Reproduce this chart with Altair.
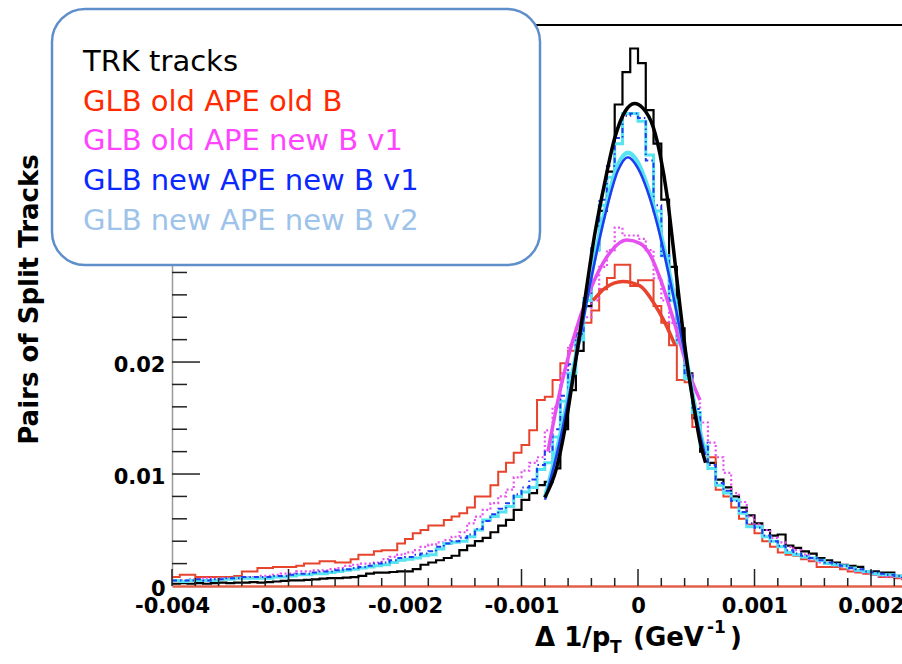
import altair as alt
import pandas as pd

# ---------------------------------------------------------------------------
# Histogram binning: 120 bins over [-0.004, 0.004]; the first 95 bins are shown
# ---------------------------------------------------------------------------
N_BINS = 120
X_LO, X_HI = -0.004, 0.004
BIN_W = (X_HI - X_LO) / N_BINS

# Bin contents, in units of 1e-3
trk_tracks = [
    0.2, 0.25, 0.2, 0.25, 0.2, 0.25, 0.3, 0.25, 0.3, 0.3,
    0.35, 0.3, 0.35, 0.4, 0.45, 0.5, 0.5, 0.55, 0.6, 0.65,
    0.7, 0.7, 0.75, 0.8, 0.9, 1.1, 1.2, 1.2, 1.25, 1.3,
    1.3, 1.5, 1.9, 2.1, 2.3, 2.5, 2.7, 3.2, 3.6, 4.0,
    4.3, 4.8, 5.4, 5.9, 6.8, 7.7, 8.3, 9.0, 9.3, 10.5,
    14.0, 17.5, 21.0, 25.0, 30.0, 33.5, 37.0, 43.0, 45.9, 48.0,
    46.7, 42.5, 39.5, 34.5, 28.5, 23.0, 19.0, 15.0, 12.0, 11.0,
    9.5, 8.8, 8.0, 7.0, 6.3, 5.6, 5.0, 4.5, 4.6, 3.6,
    3.4, 3.1, 2.9, 2.5, 2.3, 2.1, 1.9, 1.8, 1.7, 1.3,
    1.3, 1.2, 1.2, 0.9, 0.8,
]
glb_oldape_oldb = [
    0.8, 1.0, 1.0, 0.8, 0.8, 0.8, 0.8, 0.8, 0.9, 1.3,
    1.3, 1.6, 1.6, 1.7, 1.7, 1.7, 1.8, 2.0, 2.0, 2.2,
    2.2, 2.1, 2.1, 2.4, 2.8, 2.8, 3.1, 3.2, 3.2, 3.8,
    4.2, 4.7, 5.0, 5.4, 5.4, 5.9, 6.2, 6.5, 7.0, 8.0,
    8.0, 9.0, 10.2, 11.0, 11.9, 12.6, 13.9, 16.6, 16.9, 18.4,
    19.9, 21.0, 22.6, 23.5, 24.6, 26.5, 27.5, 28.7, 28.7, 26.8,
    27.3, 27.3, 25.0, 23.5, 21.5, 18.4, 18.2, 14.2, 12.5, 11.5,
    8.6, 8.0, 7.0, 6.0, 5.5, 4.7, 4.0, 3.5, 3.0, 2.8,
    2.7, 2.4, 2.2, 1.7, 1.7, 1.7, 1.5, 1.3, 1.2, 1.1,
    1.0, 0.8, 0.8, 0.7, 0.6,
]
glb_oldape_newb_v1 = [
    0.5, 0.5, 0.6, 0.6, 0.7, 0.6, 0.7, 0.7, 0.7, 0.8,
    0.8, 0.9, 0.9, 1.0, 1.1, 1.1, 1.3, 1.3, 1.4, 1.4,
    1.5, 1.6, 1.8, 1.9, 2.0, 2.0, 2.1, 2.4, 2.6, 2.8,
    3.0, 3.2, 3.5, 3.7, 3.9, 4.1, 4.4, 4.8, 5.6, 6.2,
    6.8, 7.4, 8.0, 8.6, 9.7, 10.3, 11.0, 11.5, 13.9, 16.0,
    19.0, 21.5, 23.0, 24.0, 25.5, 28.5, 30.0, 32.0, 31.3, 31.3,
    31.0, 30.0, 27.5, 25.5, 23.5, 22.0, 19.0, 16.3, 14.6, 12.8,
    11.5, 10.1, 8.3, 7.5, 6.2, 5.5, 5.0, 4.3, 3.9, 3.5,
    3.2, 2.8, 2.4, 2.1, 2.0, 1.8, 1.7, 1.5, 1.3, 1.2,
    1.0, 0.9, 0.8, 0.8, 0.7,
]
glb_newape_newb_v1 = [
    0.5, 0.5, 0.5, 0.6, 0.5, 0.6, 0.6, 0.7, 0.7, 0.8,
    0.8, 0.8, 0.8, 0.9, 0.9, 1.0, 1.1, 1.1, 1.2, 1.3,
    1.3, 1.4, 1.5, 1.6, 1.7, 1.8, 2.0, 2.1, 2.3, 2.5,
    2.6, 2.8, 2.9, 3.1, 3.5, 3.8, 4.0, 4.3, 4.6, 5.1,
    5.8, 6.4, 6.9, 7.4, 8.2, 8.8, 9.5, 10.8, 12.0, 14.0,
    17.0, 19.8, 22.5, 26.0, 30.5, 34.5, 37.5, 40.0, 42.0, 42.2,
    41.8, 38.0, 34.0, 29.5, 25.5, 22.0, 18.8, 15.8, 12.8, 10.8,
    9.2, 8.5, 7.6, 6.6, 5.6, 5.2, 4.5, 4.0, 3.6, 3.2,
    2.9, 2.7, 2.5, 2.3, 2.1, 2.0, 1.8, 1.6, 1.5, 1.3,
    1.2, 1.1, 1.0, 0.9, 0.8,
]
glb_newape_newb_v2 = [
    0.5, 0.4, 0.5, 0.5, 0.5, 0.5, 0.6, 0.6, 0.7, 0.7,
    0.7, 0.7, 0.7, 0.8, 0.8, 0.9, 1.0, 1.0, 1.1, 1.1,
    1.2, 1.3, 1.4, 1.5, 1.6, 1.7, 1.8, 1.9, 2.1, 2.3,
    2.4, 2.5, 2.7, 2.8, 3.3, 3.8, 3.9, 4.0, 4.4, 5.0,
    5.9, 6.2, 6.6, 7.1, 8.0, 8.4, 8.8, 10.4, 11.0, 13.3,
    16.5, 19.0, 22.0, 25.5, 30.0, 34.0, 36.5, 39.5, 42.2, 42.2,
    41.5, 38.5, 33.5, 29.5, 25.5, 21.7, 18.5, 15.5, 12.5, 10.5,
    9.0, 8.3, 7.7, 6.5, 5.3, 5.3, 4.4, 4.0, 3.5, 3.0,
    2.8, 2.6, 2.5, 2.3, 2.0, 1.9, 1.8, 1.6, 1.4, 1.3,
    1.1, 1.0, 1.0, 0.9, 0.8,
]

# Fitted core curves: (x, value in units of 1e-3)
fit_trk_x = [-0.00080, -0.00070, -0.00063, -0.00054, -0.00047, -0.00037, -0.00028,
             -0.00020, -0.00011, -0.00003, 0.00004, 0.00013, 0.00019, 0.00025,
             0.00030, 0.00036, 0.00042, 0.00048, 0.00053, 0.00058]
fit_trk_y = [7.9, 10.5, 13.9, 19.8, 24.6, 31.5, 36.3, 40.0, 42.4, 43.1,
             42.7, 41.0, 38.5, 34.8, 30.5, 25.0, 20.0, 16.0, 13.0, 11.0]

fit_oo_x = [-0.000386, -0.000283, -0.000129, 0.000017, 0.000146, 0.000232, 0.000318]
fit_oo_y = [25.5, 26.6, 27.2, 26.8, 25.1, 23.5, 21.5]

fit_on1_x = [-0.000773, -0.000695, -0.000558, -0.000412, -0.000266, -0.000094,
             0.000017, 0.000103, 0.000189, 0.000318, 0.000446, 0.000532]
fit_on1_y = [12.0, 16.2, 22.0, 26.4, 29.4, 30.9, 30.6, 29.6, 27.5, 23.3, 18.8, 16.6]

fit_nn_x = [-0.000798, -0.000670, -0.000541, -0.000412, -0.000283, -0.000172, -0.000086,
            0.0, 0.000077, 0.000163, 0.000275, 0.000403, 0.000506, 0.000575]
fit_nn1_y = [7.7, 13.0, 19.7, 26.9, 33.1, 37.1, 38.3, 37.3, 35.4, 32.4, 27.3, 20.6, 14.8, 11.7]
fit_nn2_y = [7.9, 13.3, 20.1, 27.3, 33.5, 37.6, 38.7, 37.8, 35.8, 32.8, 27.6, 20.9, 15.0, 11.9]

legend_labels = ["TRK tracks", "GLB old APE old B", "GLB old APE new B v1",
                 "GLB new APE new B v1", "GLB new APE new B v2"]
legend_colors = ["#000000", "#ff2a00", "#ff44ff", "#0a28ff", "#9ec3ea"]

x_tick_labels = [-0.004, -0.003, -0.002, -0.001, 0.0, 0.001, 0.002]
y_tick_labels = [0.0, 0.01, 0.02]

# ---------------------------------------------------------------------------
# Layout
# ---------------------------------------------------------------------------
W, H = 730, 561
X_DOM = [-0.004, 0.002266]
Y_DOM = [0.0, 0.0501]
PAD = {"left": 172, "top": 25, "right": 0, "bottom": 78}
BOLD = "DejaVu Sans"

xs = alt.Scale(domain=X_DOM, nice=False, zero=False)
ys = alt.Scale(domain=Y_DOM, nice=False, zero=False)


def hist_frame(values):
    xs_ = [X_LO + i * BIN_W for i in range(len(values) + 1)]
    ys_ = [v * 1e-3 for v in values] + [values[-1] * 1e-3]
    return pd.DataFrame({"x": xs_, "y": ys_})


def fit_frame(xv, yv):
    return pd.DataFrame({"x": xv, "y": [v * 1e-3 for v in yv]})


# One shared axis definition per channel, used by every layer so they merge cleanly
x_axis = alt.Axis(
    values=x_tick_labels,
    labelExpr="datum.value < 0 ? '-' + format(-datum.value, '~g') : format(datum.value, '~g')",
    labelFont=BOLD, labelFontWeight="bold", labelFontSize=21, labelColor="black",
    labelPadding=9, labelFlush=False, labelOverlap=False, labelBound=False,
    ticks=False, grid=False, domainColor="#e0604a", domainWidth=2.5, title=None,
)
y_axis = alt.Axis(
    values=y_tick_labels,
    labelExpr="datum.value == 0 ? '0' : format(datum.value, '.2f')",
    labelFont=BOLD, labelFontWeight="bold", labelFontSize=21, labelColor="black",
    labelPadding=7, labelOffset=3, labelFlush=False, labelOverlap=False,
    ticks=False, grid=False, domainColor="#9a9a9a", domainWidth=1.5,
    title="Pairs of Split Tracks", titleFont=BOLD, titleFontWeight="bold",
    titleFontSize=26, titleColor="black", titleAngle=270, titleAlign="center",
    titleBaseline="alphabetic", titleX=-135, titleY=274,
)

X_ENC = dict(scale=xs, axis=x_axis)
Y_ENC = dict(scale=ys, axis=y_axis)


def hist_layer(values, color, width, dash=None):
    mark_kw = dict(interpolate="step-after", color=color, strokeWidth=width, clip=True)
    if dash:
        mark_kw["strokeDash"] = dash
    return alt.Chart(hist_frame(values)).mark_line(**mark_kw).encode(
        x=alt.X("x:Q", **X_ENC),
        y=alt.Y("y:Q", **Y_ENC),
    )


def fit_layer(xv, yv, color, width):
    return alt.Chart(fit_frame(xv, yv)).mark_line(
        interpolate="monotone", color=color, strokeWidth=width, clip=True
    ).encode(
        x=alt.X("x:Q", **X_ENC),
        y=alt.Y("y:Q", **Y_ENC),
    )


C_BLACK, C_RED, C_MAG, C_BLUE, C_CYAN = "#000000", "#e8432d", "#e650f0", "#1f3cf0", "#55e4f0"

layers = [
    hist_layer(trk_tracks, C_BLACK, 2.2),
    hist_layer(glb_oldape_oldb, C_RED, 2),
    hist_layer(glb_oldape_newb_v1, C_MAG, 2.2, dash=[2, 2.5]),
    hist_layer(glb_newape_newb_v2, C_CYAN, 3),
    hist_layer(glb_newape_newb_v1, C_BLUE, 2, dash=[5, 3, 1.5, 3]),
    fit_layer(fit_oo_x, fit_oo_y, C_RED, 3.5),
    fit_layer(fit_on1_x, fit_on1_y, C_MAG, 3.5),
    fit_layer(fit_nn_x, fit_nn2_y, C_CYAN, 4.5),
    fit_layer(fit_nn_x, fit_nn1_y, C_BLUE, 2.5),
    fit_layer(fit_trk_x, fit_trk_y, C_BLACK, 3.5),
]

one = pd.DataFrame({"k": [0]})

# Inward ticks on both axes
x_minor = [round(-0.004 + k * 0.0002, 4) for k in range(32)]
x_minor = [v for v in x_minor if round(v * 1000, 4) % 1 != 0]
y_minor = [round(k * 0.002, 3) for k in range(1, 26)]
y_minor = [v for v in y_minor if round(v * 100, 4) % 1 != 0]
y_major = [0.01, 0.02, 0.03, 0.04, 0.05]

tick_color = "#222222"
layers += [
    alt.Chart(pd.DataFrame({"x": x_minor})).mark_rule(color=tick_color, strokeWidth=1.5).encode(
        x=alt.X("x:Q", **X_ENC), y=alt.value(H), y2=alt.value(H - 8)),
    alt.Chart(pd.DataFrame({"x": x_tick_labels})).mark_rule(color=tick_color, strokeWidth=1.5).encode(
        x=alt.X("x:Q", **X_ENC), y=alt.value(H), y2=alt.value(H - 17)),
    alt.Chart(pd.DataFrame({"y": y_minor})).mark_rule(color=tick_color, strokeWidth=1.5).encode(
        y=alt.Y("y:Q", **Y_ENC), x=alt.value(0), x2=alt.value(15)),
    alt.Chart(pd.DataFrame({"y": y_major})).mark_rule(color=tick_color, strokeWidth=1.5).encode(
        y=alt.Y("y:Q", **Y_ENC), x=alt.value(0), x2=alt.value(28)),
    # top edge of the frame
    alt.Chart(one).mark_rule(color="black", strokeWidth=2).encode(
        x=alt.value(0), x2=alt.value(W), y=alt.value(0)),
]

# Legend box
ox, oy = PAD["left"], PAD["top"]
layers.append(
    alt.Chart(one).mark_rect(
        cornerRadius=33, fill="white", stroke="#5f8fca", strokeWidth=2.5
    ).encode(
        x=alt.value(52 - ox), x2=alt.value(540 - ox),
        y=alt.value(9 - oy), y2=alt.value(265 - oy),
    )
)
for k, (lab, col) in enumerate(zip(legend_labels, legend_colors)):
    layers.append(
        alt.Chart(one).mark_text(
            align="left", baseline="alphabetic", font="DejaVu Sans",
            fontSize=29, color=col,
        ).encode(x=alt.value(83 - ox), y=alt.value(71 - oy + k * 39.7), text=alt.value(lab))
    )

# x-axis title: Δ 1/p_T (GeV^-1)
title_parts = [
    ("\u0394 1/p", 535, 646, 26),
    ("T", 610, 653, 17),
    ("(GeV", 633, 646, 26),
    ("-1", 707, 633, 17),
    (")", 730, 646, 26),
]
for txt, px, py, fs in title_parts:
    layers.append(
        alt.Chart(one).mark_text(
            align="left", baseline="alphabetic", font=BOLD, fontWeight="bold",
            fontSize=fs, color="black",
        ).encode(x=alt.value(px - ox), y=alt.value(py - oy), text=alt.value(txt))
    )

chart = alt.layer(*layers).properties(
    width=W, height=H,
    autosize=alt.AutoSizeParams(type="none"),
    padding=PAD,
    background="white",
).configure_view(stroke=None)

chart.save("out.html", embed_options={"renderer": "svg", "actions": False})
